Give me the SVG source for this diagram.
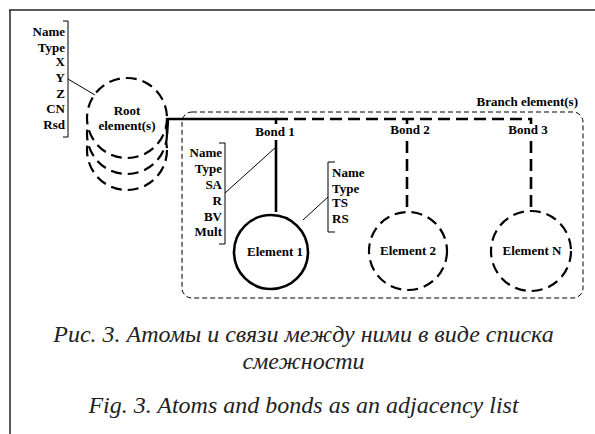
<svg xmlns="http://www.w3.org/2000/svg" width="595" height="434" viewBox="0 0 595 434">
<style>
.thin{stroke:#000;stroke-width:1;fill:none}
.dcirc{stroke:#000;stroke-width:2.2;stroke-dasharray:11 6;fill:#fff}
.thick{stroke:#000;stroke-width:2.6;fill:none}
.thickd{stroke:#000;stroke-width:2.6;fill:none;stroke-dasharray:12 6}
</style>
<rect width="595" height="434" fill="#fff"/>
<g id="frame">
<line x1="9" y1="10" x2="595" y2="10" stroke="#222" stroke-width="1.5"/>
<line x1="10" y1="10" x2="10" y2="434" stroke="#222" stroke-width="1.5"/>
</g>
<g font-family="Liberation Serif" font-weight="bold" font-size="13">
<g id="branch-box">
<rect x="182" y="112" width="401" height="186" rx="10" fill="none" stroke="#000" stroke-width="1" stroke-dasharray="5 3"/>
<text x="578" y="106" text-anchor="end">Branch element(s)</text>
</g>
<g id="root">
<circle class="dcirc" cx="127" cy="150" r="40"/>
<circle class="dcirc" cx="127" cy="134" r="40"/>
<circle class="dcirc" cx="127" cy="118" r="40"/>
<text x="127" y="115" text-anchor="middle">Root</text>
<text x="127" y="130" text-anchor="middle">element(s)</text>
</g>
<g id="root-attrs" text-anchor="end">
<path class="thin" d="M63,21 H68 V137 H63"/>
<text x="65" y="36">Name</text>
<text x="65" y="52">Type</text>
<text x="65" y="66">X</text>
<text x="65" y="82">Y</text>
<text x="65" y="98">Z</text>
<text x="65" y="113">CN</text>
<text x="65" y="129">Rsd</text>
<line class="thin" x1="68" y1="79" x2="95" y2="95"/>
</g>
<g id="connectors">
<path class="thick" d="M167,134 L168,119 H276 V124"/>
<line class="thick" x1="276" y1="140" x2="276" y2="212"/>
<path class="thickd" d="M276,119 H531 V124"/>
<line class="thickd" x1="407" y1="119" x2="407" y2="124"/>
<line class="thickd" x1="407" y1="141" x2="407" y2="212"/>
<line class="thickd" x1="531" y1="141" x2="531" y2="212"/>
</g>
<g id="bond-labels" text-anchor="middle">
<text x="275" y="136">Bond 1</text>
<text x="410" y="134">Bond 2</text>
<text x="528" y="134">Bond 3</text>
</g>
<g id="bond-attrs" text-anchor="end">
<path class="thin" d="M219,143 H225 V244 H219"/>
<text x="222" y="157">Name</text>
<text x="222" y="173">Type</text>
<text x="222" y="189">SA</text>
<text x="222" y="205">R</text>
<text x="222" y="221">BV</text>
<text x="222" y="236">Mult</text>
<line class="thin" x1="225" y1="193" x2="276" y2="147"/>
</g>
<g id="element1">
<circle cx="271" cy="252" r="37" fill="#fff" stroke="#000" stroke-width="2.6"/>
<text x="275" y="256" text-anchor="middle">Element 1</text>
</g>
<g id="element-attrs">
<path class="thin" d="M335,162 H328 V232 H335"/>
<text x="332" y="177">Name</text>
<text x="332" y="193">Type</text>
<text x="332" y="207">TS</text>
<text x="332" y="223">RS</text>
<line class="thin" x1="328" y1="197" x2="303" y2="220"/>
</g>
<g id="element2">
<circle class="dcirc" cx="408" cy="251" r="39"/>
<text x="408" y="255" text-anchor="middle">Element 2</text>
</g>
<g id="elementN">
<circle class="dcirc" cx="531" cy="251" r="40"/>
<text x="532" y="255" text-anchor="middle">Element N</text>
</g>
</g>
<g id="caption" font-family="Liberation Serif" font-style="italic" font-size="24" fill="#222" text-anchor="middle">
<text x="303.5" y="342">Рис. 3. Атомы и связи между ними в виде списка</text>
<text x="303.5" y="369">смежности</text>
<text x="303.5" y="413">Fig. 3. Atoms and bonds as an adjacency list</text>
</g>
</svg>
